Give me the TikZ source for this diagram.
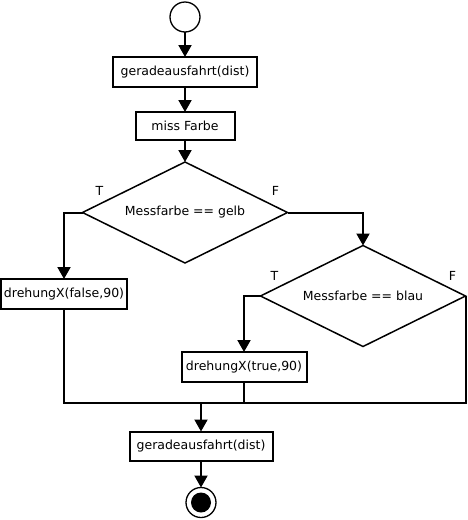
\documentclass[tikz,border=0pt]{standalone}
\usepackage{fontspec}
\setmainfont{DejaVu Sans}
\usetikzlibrary{arrows.meta}
\usetikzlibrary{shapes.geometric}
\usetikzlibrary{positioning}

\begin{document}
\begin{tikzpicture}[x=1pt,y=1pt,node distance=25pt,
        every node/.style={font=\fontsize{12.5}{14}\selectfont,outer sep=0pt},
        action/.style={draw,line width=2pt,minimum height=30pt,inner sep=2pt},
        decision/.style={draw,diamond,shape aspect=2.03,line width=1.5pt,minimum width=205pt,minimum height=101pt,inner sep=0pt},
        flow/.style={line width=2pt},
        go/.style={flow,-{Triangle[width=13pt,length=12pt]}}]
        \useasboundingbox (0,0) rectangle (468,-520);
        \node[circle,draw,line width=1.3pt,minimum size=30pt] (start) at (185,-17) {};
        \node [action,minimum width=144pt] (move1) [below=of start] {geradeausfahrt(dist)};
        \node [action,minimum width=99pt,minimum height=28pt] (measure) [below=of move1] {miss Farbe};
        \node [decision] (yellow) [below=22pt of measure] {Messfarbe == gelb};
        \node [decision] (blue) at (363,-296) {Messfarbe == blau};
        \node [action,minimum width=126pt] (turnfalse) at (64,-294) {drehungX(false,90)};
        \node [action,minimum width=125pt] (turntrue) at (244,-367) {drehungX(true,90)};
        \node [action,minimum width=143pt,minimum height=29pt] (move2) at (201,-446) {geradeausfahrt(dist)};
        \node[circle,draw,line width=1.3pt,minimum size=30pt] (stop) [below=27pt of move2] {};
        \node[circle,fill,minimum size=20pt] (stopdot) at (stop) {};
        \coordinate (join) at (201,-403);
        % labels at the decisions
        \node (yt) at ([xshift=17pt,yshift=22pt]yellow.west) {T};
        \node (yf) at ([xshift=-12pt,yshift=22pt]yellow.east) {F};
        \node (bt) at ([xshift=14pt,yshift=20pt]blue.west) {T};
        \node (bf) at ([xshift=-13pt,yshift=20pt]blue.east) {F};
        % arrows
        \draw[go] (start) -- (move1);
        \draw[go] (move1) -- (measure);
        \draw[go] (measure) -- (yellow);
        \draw[go] (yellow.west) -| (turnfalse.north);
        \draw[go] (yellow.east) -| (blue.north);
        \draw[go] (blue.west) -| (turntrue.north);
        \draw[flow] (turnfalse.south) -- (turnfalse.south |- join) -- (blue.east |- join) -- (blue.east);
        \draw[flow] (turntrue.south) -- (turntrue.south |- join);
        \draw[go] (join) -- (move2);
        \draw[go] (move2) -- (stop);
\end{tikzpicture}
\end{document}
